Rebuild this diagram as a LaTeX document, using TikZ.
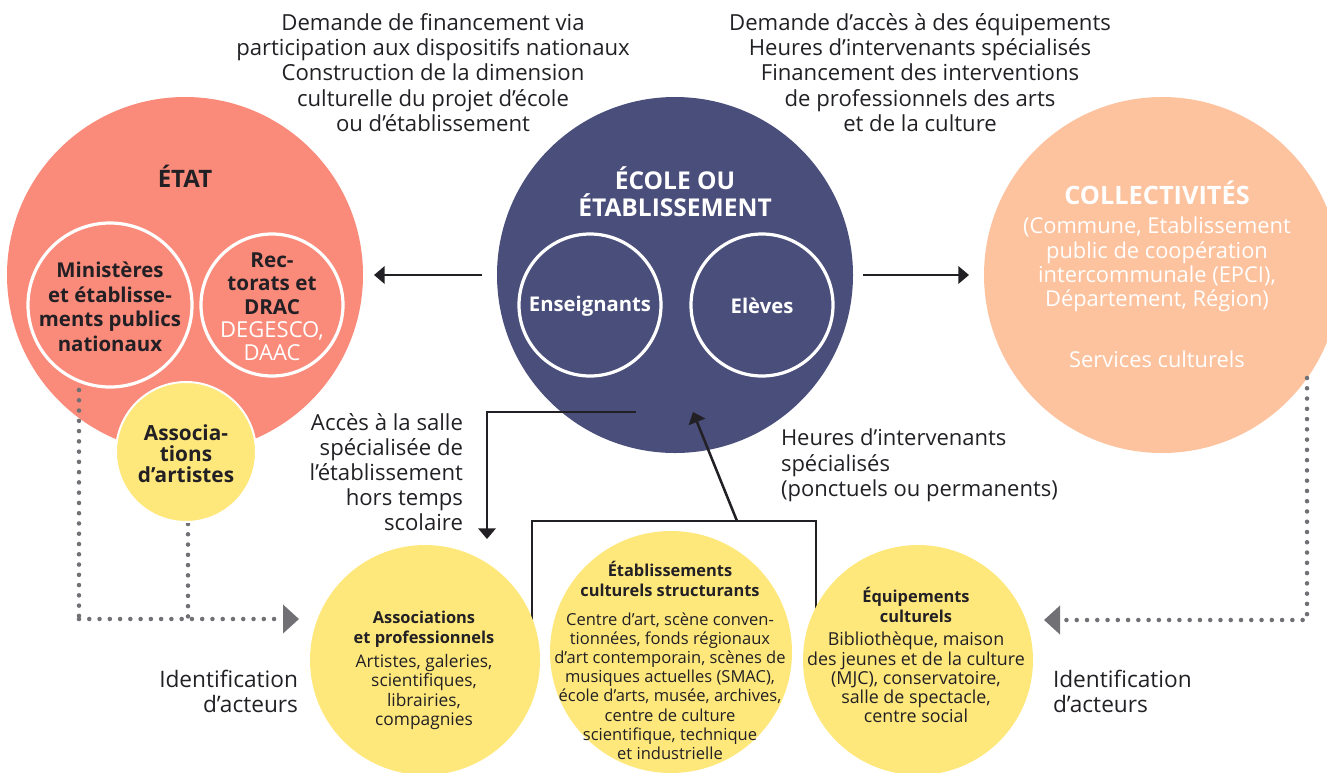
\documentclass[tikz,border=0pt]{standalone}
\usepackage{fontspec}
\setmainfont{Open Sans}
\usetikzlibrary{arrows.meta}
\definecolor{etatc}{HTML}{FA8A7A}
\definecolor{ecolec}{HTML}{4A4E7A}
\definecolor{collc}{HTML}{FDC29E}
\definecolor{yellc}{HTML}{FEE87C}
\definecolor{inkc}{HTML}{222024}
\definecolor{dotc}{HTML}{707075}
\begin{document}
\begin{tikzpicture}[x=0.75pt,y=-0.75pt,
  bubble/.style={circle,inner sep=0pt,outer sep=0pt,minimum size=#1},
  ring/.style={draw=white,line width=2.4pt},
  thinring/.style={draw=white,line width=1.5pt},
  txt/.style={inner sep=0pt,outer sep=0pt,text=inkc,align=center},
  bigtxt/.style={txt,font=\fontsize{16.6}{19}\selectfont},
  midbold/.style={txt,font=\fontsize{15.3}{18.4}\selectfont\bfseries},
  smallbold/.style={txt,font=\fontsize{12.3}{14.8}\selectfont\bfseries},
  smalltxt/.style={txt,font=\fontsize{13}{14.4}\selectfont},
  wtxt/.style={txt,text=white},
  link/.style={draw=inkc,line width=1.9pt},
  arr/.style={link,-{Triangle[length=8pt,width=13pt]}},
  dots/.style={draw=dotc,line width=3.4pt,line cap=round,dash pattern=on 0pt off 7.7pt},
  dotarr/.style={dots,-{Triangle[length=12pt,width=21pt,fill=dotc]}}
]
\useasboundingbox (0,0) rectangle (1327,772);

% coordinates for connectors
\coordinate (boxA) at (532,640);
\coordinate (boxB) at (532,521);
\coordinate (boxC) at (816,521);
\coordinate (boxD) at (816,640);
\coordinate (hstart) at (737,521);
\coordinate (htip) at (693,412);
\coordinate (accstart) at (636,412);
\coordinate (acctip) at (487,539);
\coordinate (dl1) at (79,390);
\coordinate (dl2) at (188,524);
\coordinate (dlc) at (79,619);
\coordinate (dltip) at (299,619);
\coordinate (dr1) at (1307,378);
\coordinate (drtip) at (1044,620);

% box behind bottom circles
\draw[link] (boxA) -- (boxB) -- (boxC) -- (boxD);

% main circles
\node[bubble=267pt,fill=etatc] (etat) at (185,275) {};
\node[bubble=267pt,fill=ecolec] (ecole) at (675,275) {};
\node[bubble=267pt,fill=collc] (coll) at (1162,275) {};

\node[bubble=123pt,ring] (minist) at (110,305) {};
\node[bubble=106.5pt,ring] (rect) at (272,305) {};
\node[bubble=106.5pt,ring] (ens) at (590,305) {};
\node[bubble=106.5pt,ring] (elev) at (762,305) {};

% dotted connectors
\draw[dots] (dl1) -- (dlc);
\draw[dots] (dl2) -- (dl2 |- dlc);
\draw[dotarr] (dlc) -- (dltip);
\draw[dotarr] (dr1) |- (drtip);

\node[bubble=105pt,fill=yellc,thinring] (assocart) at (186,452) {};

\node[bubble=172.5pt,fill=yellc] (assoc) at (425,660) {};
\node[bubble=181.5pt,fill=yellc] (etab) at (671,652) {};
\node[bubble=172.5pt,fill=yellc] (equip) at (918,660) {};

% solid arrows
\draw[arr,shorten <=11.25pt,shorten >=8.25pt] (ecole.west) -- (etat.east);
\draw[arr,shorten <=7.5pt,shorten >=11.25pt] (ecole.east) -- (coll.west);
\draw[arr] (accstart) -| (acctip);
\draw[arr] (hstart) -- (htip);

% texts
\node[bigtxt] (ttl) at (433,72.5) {Demande de financement via\\participation aux dispositifs nationaux\\Construction de la dimension\\culturelle du projet d’école\\ou d’établissement};
\node[bigtxt] (ttr) at (920,72.5) {Demande d’accès à des équipements\\Heures d’intervenants spécialisés\\Financement des interventions\\de professionnels des arts\\et de la culture};

\node[txt,font=\fontsize{18}{20}\selectfont\bfseries] (etatt) at (185,176) {ÉTAT};
\node[midbold] (ministt) at (110,307) {Ministères\\et établisse-\\ments publics\\nationaux};
\node[txt,font=\fontsize{15.5}{17.5}\selectfont] (rectt) at (272,307) {\bfseries Rec-\\\bfseries torats et\\\bfseries DRAC\\\textcolor{white}{\fontsize{16.5}{17.5}\selectfont DEGESCO,}\\\textcolor{white}{\fontsize{16.5}{17.5}\selectfont DAAC}};
\node[midbold,font=\fontsize{15.6}{15.8}\selectfont\bfseries] (assocartt) at (186,454) {Associa-\\tions\\d’artistes};

\node[wtxt,font=\fontsize{18.4}{20.2}\selectfont\bfseries] (ecolet) at (675,191.5) {ÉCOLE OU\\ÉTABLISSEMENT};
\node[wtxt,font=\fontsize{15.2}{17}\selectfont\bfseries] (enst) at (590,306) {Enseignants};
\node[wtxt,font=\fontsize{15.2}{17}\selectfont\bfseries] (elevt) at (762,306) {Elèves};

\node[wtxt,font=\fontsize{19}{20}\selectfont\bfseries] (collt) at (1157,193) {COLLECTIVITÉS};
\node[wtxt,font=\fontsize{16.4}{18.2}\selectfont] (collsub) at (1157,264.5) {(Commune, Etablissement\\public de coopération\\intercommunale (EPCI),\\Département, Région)};
\node[wtxt,font=\fontsize{16.4}{18.2}\selectfont] (collserv) at (1157,359) {Services culturels};

\node[bigtxt,align=right,anchor=east,font=\fontsize{16.6}{18.75}\selectfont] (acct) at (463,472) {Accès à la salle\\spécialisée de\\l’établissement\\hors temps\\scolaire};
\node[bigtxt,align=left,anchor=west,font=\fontsize{16.5}{19}\selectfont] (heurt) at (781,465.5) {Heures d’intervenants\\spécialisés\\(ponctuels ou permanents)};
\node[bigtxt,align=right,anchor=east,font=\fontsize{17}{18.75}\selectfont] (idl) at (298,691.5) {Identification\\d’acteurs};
\node[bigtxt,align=left,anchor=west,font=\fontsize{17}{18.75}\selectfont] (idr) at (1053,691.5) {Identification\\d’acteurs};

\node[smallbold] (assoch) at (424,629) {Associations\\et professionnels};
\node[smalltxt] (assocb) at (424,692) {Artistes, galeries,\\scientifiques,\\librairies,\\compagnies};
\node[smallbold] (etabh) at (670,579) {Établissements\\culturels structurants};
\node[smalltxt,font=\fontsize{12.4}{14.4}\selectfont] (etabb) at (670,686) {Centre d’art, scène conven-\\tionnées, fonds régionaux\\d’art contemporain, scènes de\\musiques actuelles (SMAC),\\école d’arts, musée, archives,\\centre de culture\\scientifique, technique\\et industrielle};
\node[smallbold] (equiph) at (916,605) {Équipements\\culturels};
\node[smalltxt,font=\fontsize{13.4}{14.4}\selectfont] (equipb) at (916,677.5) {Bibliothèque, maison\\des jeunes et de la culture\\(MJC), conservatoire,\\salle de spectacle,\\centre social};
\end{tikzpicture}
\end{document}
